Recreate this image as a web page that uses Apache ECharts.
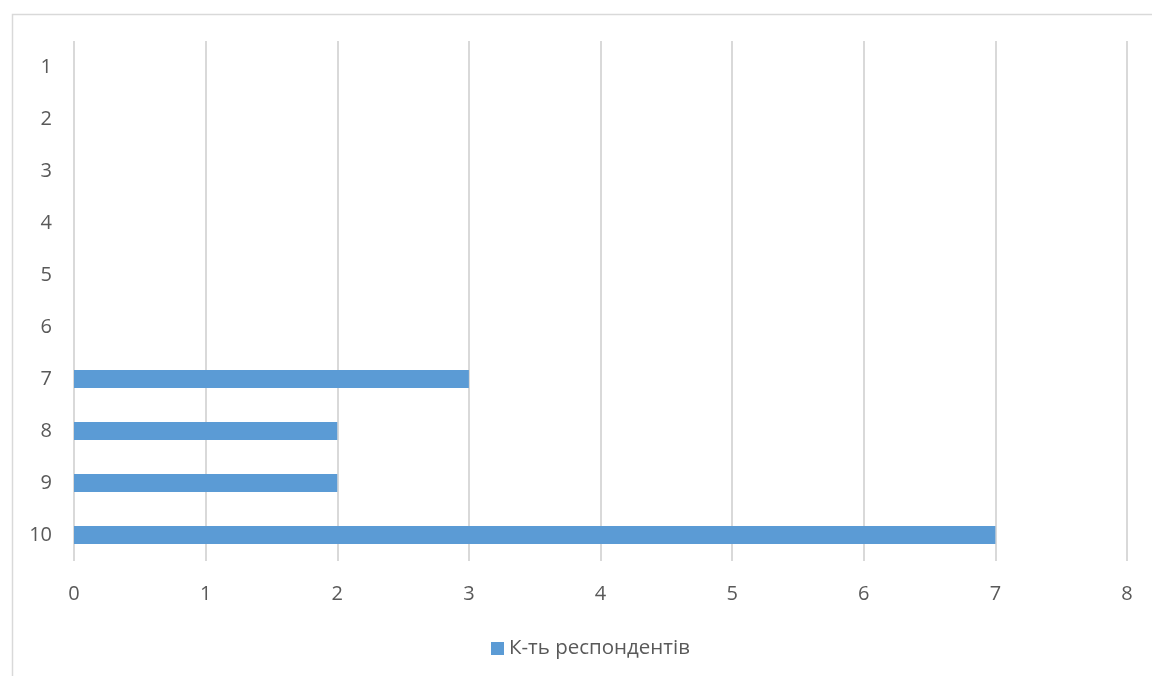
<!DOCTYPE html>
<html>
<head>
<meta charset="utf-8">
<script src="https://cdn.jsdelivr.net/npm/echarts@6/dist/echarts.min.js"></script>
<style>
  html, body { margin: 0; padding: 0; background: #ffffff; }
  #chart { width: 1152px; height: 676px; }
</style>
</head>
<body>
<div id="chart"></div>
<script>
// Score categories (top to bottom) and respondent counts
const categories = ['1', '2', '3', '4', '5', '6', '7', '8', '9', '10'];
const respondents = [0, 0, 0, 0, 0, 0, 3, 2, 2, 7];
const seriesName = 'К-ть респондентів';

const textColor = '#595959';
const gridColor = '#d9d9d9';
const barColor = '#5b9bd5';
const fontFamily = '"Open Sans", "Noto Sans", sans-serif';
const fontSize = 20;

const chart = echarts.init(document.getElementById('chart'), null, { renderer: 'canvas' });
chart.setOption({
  backgroundColor: '#ffffff',
  animation: false,
  textStyle: { fontFamily: fontFamily, color: textColor },
  graphic: [{
    type: 'rect',
    left: 10, top: 12,
    shape: { width: 1200, height: 700 },
    style: { fill: 'none', stroke: gridColor, lineWidth: 1.5 },
    silent: true
  }],
  grid: { left: 74, right: 25, top: 41, bottom: 115, containLabel: false },
  legend: {
    data: [seriesName],
    top: 633,
    left: 486,
    icon: 'rect',
    itemWidth: 13,
    itemHeight: 13,
    itemGap: 6,
    textStyle: { color: textColor, fontSize: 20.5, fontFamily: fontFamily, padding: [0, 0, 0, 0] }
  },
  xAxis: {
    type: 'value',
    min: 0,
    max: 8,
    interval: 1,
    axisLine: { show: false },
    axisTick: { show: false },
    axisLabel: { color: textColor, fontSize: fontSize, margin: 23, fontFamily: fontFamily },
    splitLine: { show: true, lineStyle: { color: gridColor, width: 2 } }
  },
  yAxis: {
    type: 'category',
    data: categories,
    inverse: true,
    axisLine: { show: false },
    axisTick: { show: false },
    axisLabel: { color: textColor, fontSize: fontSize, margin: 22, fontFamily: fontFamily },
    splitLine: { show: false }
  },
  series: [{
    name: seriesName,
    type: 'bar',
    data: respondents,
    barWidth: 18,
    itemStyle: { color: barColor }
  }]
});
</script>
</body>
</html>
